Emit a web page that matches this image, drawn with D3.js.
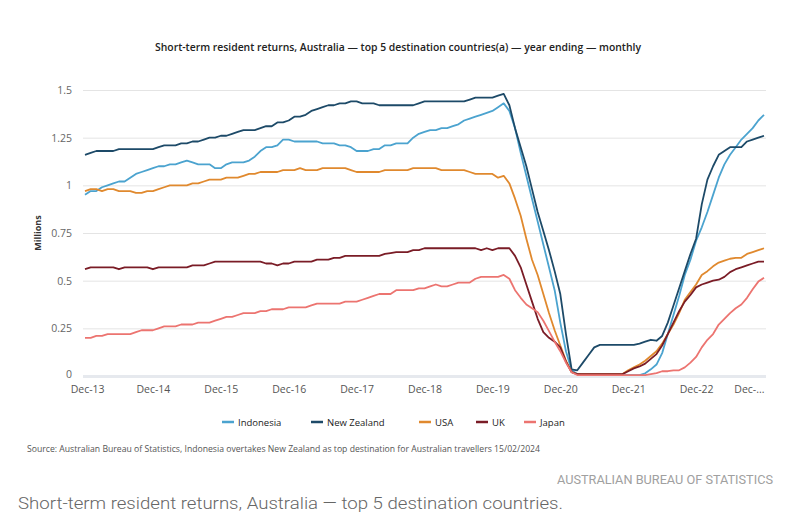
<!DOCTYPE html>
<html><head><meta charset="utf-8">
<script src="https://cdn.jsdelivr.net/npm/d3@7"></script>
<style>
html,body{margin:0;padding:0;background:#fff;}
svg{display:block;font-family:"Open Sans","Noto Sans",sans-serif;}
</style></head>
<body>
<svg id="chart" width="811" height="521"></svg>
<script>
// ---- data (millions, monthly, year ending Dec-13 .. Dec-23) ----
const seriesNames = ["Indonesia", "New Zealand", "USA", "UK", "Japan"];
const xTickLabels = ["Dec-13","Dec-14","Dec-15","Dec-16","Dec-17","Dec-18","Dec-19","Dec-20","Dec-21","Dec-22","Dec-..."];
const yTicks = [0, 0.25, 0.5, 0.75, 1, 1.25, 1.5];

const indonesia = [
0.95,0.97,0.97,0.99,1.00,1.01,1.02,1.02,1.04,1.06,
1.07,1.08,1.09,1.10,1.10,1.11,1.11,1.12,1.13,1.12,
1.11,1.11,1.11,1.09,1.09,1.11,1.12,1.12,1.12,1.13,
1.15,1.18,1.20,1.20,1.21,1.24,1.24,1.23,1.23,1.23,
1.23,1.23,1.22,1.22,1.22,1.21,1.21,1.20,1.18,1.18,
1.18,1.19,1.19,1.21,1.21,1.22,1.22,1.22,1.25,1.27,
1.28,1.29,1.29,1.30,1.30,1.31,1.32,1.34,1.35,1.36,
1.37,1.38,1.39,1.41,1.43,1.39,1.30,1.17,1.05,0.93,
0.81,0.69,0.57,0.45,0.28,0.13,0.03,0.01,0.005,0.005,
0.005,0.005,0.005,0.005,0.005,0.005,0.005,0.005,0.005,0.014,
0.035,0.06,0.12,0.22,0.32,0.42,0.53,0.61,0.71,0.78,
0.86,0.95,1.04,1.11,1.16,1.20,1.24,1.27,1.30,1.34,
1.37];

const newZealand = [
1.16,1.17,1.18,1.18,1.18,1.18,1.19,1.19,1.19,1.19,
1.19,1.19,1.19,1.20,1.21,1.21,1.21,1.22,1.22,1.23,
1.23,1.24,1.25,1.25,1.26,1.26,1.27,1.28,1.29,1.29,
1.29,1.30,1.31,1.31,1.33,1.33,1.34,1.36,1.36,1.37,
1.39,1.40,1.41,1.42,1.42,1.43,1.43,1.44,1.44,1.43,
1.43,1.43,1.42,1.42,1.42,1.42,1.42,1.42,1.42,1.43,
1.44,1.44,1.44,1.44,1.44,1.44,1.44,1.44,1.45,1.46,
1.46,1.46,1.46,1.47,1.48,1.42,1.30,1.20,1.10,0.98,
0.86,0.76,0.66,0.55,0.43,0.22,0.035,0.03,0.07,0.11,
0.15,0.163,0.163,0.163,0.163,0.163,0.163,0.163,0.17,0.18,
0.19,0.185,0.21,0.28,0.37,0.46,0.55,0.64,0.72,0.90,
1.03,1.10,1.16,1.18,1.20,1.20,1.20,1.23,1.24,1.25,
1.26];

const usa = [
0.97,0.98,0.98,0.97,0.98,0.98,0.97,0.97,0.97,0.96,
0.96,0.97,0.97,0.98,0.99,1.00,1.00,1.00,1.00,1.01,
1.01,1.02,1.03,1.03,1.03,1.04,1.04,1.04,1.05,1.06,
1.06,1.07,1.07,1.07,1.07,1.08,1.08,1.08,1.09,1.08,
1.08,1.08,1.09,1.09,1.09,1.09,1.09,1.08,1.07,1.07,
1.07,1.07,1.07,1.08,1.08,1.08,1.08,1.08,1.09,1.09,
1.09,1.09,1.09,1.08,1.08,1.08,1.08,1.08,1.07,1.06,
1.06,1.06,1.06,1.04,1.05,1.01,0.93,0.84,0.72,0.61,
0.53,0.43,0.33,0.24,0.16,0.08,0.02,0.01,0.01,0.01,
0.01,0.01,0.01,0.01,0.01,0.01,0.03,0.045,0.06,0.08,
0.105,0.13,0.17,0.22,0.27,0.33,0.40,0.44,0.48,0.53,
0.55,0.575,0.595,0.605,0.615,0.62,0.62,0.64,0.65,0.66,
0.67];

const uk = [
0.56,0.57,0.57,0.57,0.57,0.57,0.56,0.57,0.57,0.57,
0.57,0.57,0.56,0.57,0.57,0.57,0.57,0.57,0.57,0.58,
0.58,0.58,0.59,0.60,0.60,0.60,0.60,0.60,0.60,0.60,
0.60,0.60,0.59,0.59,0.58,0.59,0.59,0.60,0.60,0.60,
0.60,0.61,0.61,0.61,0.62,0.62,0.63,0.63,0.63,0.63,
0.63,0.63,0.63,0.64,0.645,0.65,0.65,0.65,0.66,0.66,
0.67,0.67,0.67,0.67,0.67,0.67,0.67,0.67,0.67,0.67,
0.66,0.67,0.66,0.67,0.67,0.67,0.63,0.57,0.48,0.39,
0.30,0.23,0.20,0.18,0.15,0.075,0.02,0.01,0.01,0.01,
0.01,0.01,0.01,0.01,0.01,0.01,0.025,0.04,0.05,0.065,
0.09,0.115,0.16,0.22,0.28,0.34,0.39,0.425,0.465,0.48,
0.49,0.50,0.505,0.52,0.545,0.56,0.57,0.58,0.59,0.60,
0.60];

const japan = [
0.20,0.20,0.21,0.21,0.22,0.22,0.22,0.22,0.22,0.23,
0.24,0.24,0.24,0.25,0.26,0.26,0.26,0.27,0.27,0.27,
0.28,0.28,0.28,0.29,0.30,0.31,0.31,0.32,0.33,0.33,
0.33,0.34,0.34,0.35,0.35,0.35,0.36,0.36,0.36,0.36,
0.37,0.38,0.38,0.38,0.38,0.38,0.39,0.39,0.39,0.40,
0.41,0.42,0.43,0.43,0.43,0.45,0.45,0.45,0.45,0.46,
0.46,0.47,0.48,0.47,0.47,0.48,0.49,0.49,0.49,0.51,
0.52,0.52,0.52,0.52,0.53,0.51,0.45,0.41,0.375,0.355,
0.335,0.29,0.235,0.18,0.13,0.07,0.02,0.005,0.005,0.005,
0.005,0.005,0.005,0.005,0.005,0.005,0.005,0.005,0.005,0.005,
0.01,0.015,0.025,0.025,0.03,0.03,0.045,0.07,0.10,0.15,
0.19,0.22,0.27,0.30,0.33,0.355,0.375,0.41,0.455,0.495,
0.515];

const seriesColors = ["#4ba3cf", "#1d4a68", "#e0892e", "#7a1c26", "#ec7470"];
const seriesValues = [indonesia, newZealand, usa, uk, japan];

// ---- chart ----
const svg = d3.select("#chart");
const nPts = indonesia.length;
const x = d3.scaleLinear().domain([0, nPts - 1]).range([85, 764]);
const y = d3.scaleLinear().domain([0, 1.5]).range([376, 90]);
const gridX0 = 83, gridX1 = 766;

svg.append("rect").attr("width", 811).attr("height", 521).attr("fill", "#fff");

// title
svg.append("text")
  .attr("x", 398).attr("y", 51)
  .attr("text-anchor", "middle")
  .attr("font-size", 11).attr("font-weight", 600).attr("fill", "#222")
  .attr("textLength", 486).attr("lengthAdjust", "spacingAndGlyphs")
  .text("Short-term resident returns, Australia \u2014 top 5 destination countries(a) \u2014 year ending \u2014 monthly");

// y grid + labels
const yAxis = d3.axisLeft(y).tickValues(yTicks).tickSize(-(gridX1 - gridX0)).tickPadding(11)
  .tickFormat(d3.format("~g"));
const gy = svg.append("g").attr("transform", `translate(${gridX0},0)`).call(yAxis);
gy.select(".domain").remove();
gy.selectAll(".tick line").attr("stroke", "#e4e4e4").attr("stroke-width", 1)
  .filter(d => d === 0).attr("stroke", "#e6e9ee").attr("stroke-width", 3);
gy.selectAll(".tick text").attr("fill", "#666").attr("font-size", 10.5)
  .attr("font-family", "'Open Sans','Noto Sans',sans-serif");
gy.selectAll(".tick text").filter(d => d === 0).attr("dy", "0.1em");

// x labels
const xTickIdx = xTickLabels.map((_, i) => i * 12);
const xAxis = d3.axisBottom(x).tickValues(xTickIdx).tickSize(0).tickPadding(10)
  .tickFormat((d, i) => xTickLabels[i]);
const gx = svg.append("g").attr("transform", `translate(0,${y(0)})`).call(xAxis);
gx.select(".domain").remove();
gx.selectAll(".tick text").attr("fill", "#555").attr("font-size", 10.5)
  .attr("font-family", "'Open Sans','Noto Sans',sans-serif");
gx.selectAll(".tick text").filter((d, i) => i === 0).attr("dx", "0.2em");
gx.selectAll(".tick text").filter((d, i) => i === xTickLabels.length - 1)
  .attr("text-anchor", "end");

// y title
svg.append("text")
  .attr("transform", "translate(41,233) rotate(-90)")
  .attr("text-anchor", "middle")
  .attr("font-size", 9).attr("font-weight", 700).attr("fill", "#333")
  .text("Millions");

// lines
const line = d3.line().x((d, i) => x(i)).y(d => y(d));
seriesValues.forEach((vals, k) => {
  svg.append("path")
    .datum(vals)
    .attr("fill", "none")
    .attr("stroke", seriesColors[k])
    .attr("stroke-width", 1.8)
    .attr("stroke-linejoin", "round")
    .attr("d", line);
});

// legend
const legendX = [222, 311, 419, 476, 524];
const lg = svg.append("g");
seriesNames.forEach((name, k) => {
  const g = lg.append("g").attr("transform", `translate(${legendX[k]},422)`);
  g.append("line").attr("x1", 0).attr("x2", 12).attr("y1", 0).attr("y2", 0)
    .attr("stroke", seriesColors[k]).attr("stroke-width", 2.5);
  g.append("text").attr("x", 16).attr("y", 3.5)
    .attr("font-size", 9.5).attr("fill", "#222").text(name);
});

// source
svg.append("text")
  .attr("x", 27).attr("y", 452)
  .attr("font-size", 8.5).attr("fill", "#555")
  .attr("textLength", 513).attr("lengthAdjust", "spacingAndGlyphs")
  .text("Source: Australian Bureau of Statistics, Indonesia overtakes New Zealand as top destination for Australian travellers 15/02/2024");

// footer
svg.append("text")
  .attr("x", 773).attr("y", 484)
  .attr("text-anchor", "end")
  .attr("font-size", 12.5).attr("fill", "#a0a0a0")
  .attr("font-family", "'Liberation Sans Narrow','Roboto',sans-serif")
  .attr("textLength", 216).attr("lengthAdjust", "spacingAndGlyphs")
  .text("AUSTRALIAN BUREAU OF STATISTICS");

svg.append("text")
  .attr("x", 18).attr("y", 509)
  .attr("font-size", 17).attr("fill", "#666")
  .attr("font-family", "'Roboto','Open Sans',sans-serif").attr("font-weight", 300)
  .attr("textLength", 545).attr("lengthAdjust", "spacingAndGlyphs")
  .text("Short-term resident returns, Australia \u2014 top 5 destination countries.");
</script>
</body></html>
